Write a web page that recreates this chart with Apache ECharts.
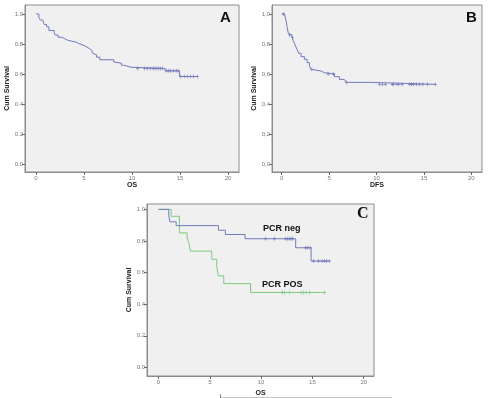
<!DOCTYPE html>
<html>
<head>
<meta charset="utf-8">
<script src="https://cdn.jsdelivr.net/npm/echarts@6/dist/echarts.min.js"></script>
<style>
  html, body { margin: 0; padding: 0; background: #fff; }
  #chart { width: 488px; height: 398px; }
</style>
</head>
<body>
<div id="chart"></div>
<script>
  // panel A - overall survival
  const aTime = [0, 0.3, 0.45, 0.7, 0.85, 1.1, 1.35, 1.9, 2.0, 2.3, 2.7, 3.0, 3.3, 4.2, 4.5, 5.0, 5.3, 5.6, 5.85, 6.0, 6.3, 6.65, 8.1, 8.3, 8.9, 9.2, 9.9, 13.45, 14.95, 16.8]
  const aSurv = [1.0, 0.975, 0.96, 0.95, 0.93, 0.915, 0.89, 0.875, 0.86, 0.845, 0.835, 0.825, 0.812, 0.802, 0.79, 0.78, 0.768, 0.755, 0.74, 0.728, 0.712, 0.695, 0.68, 0.672, 0.658, 0.645, 0.637, 0.621, 0.583, 0.583]
  const aCens = [10.6, 11.3, 11.6, 11.9, 12.2, 12.4, 12.6, 12.8, 13.0, 13.2, 13.6, 13.8, 14.0, 14.3, 14.6, 14.8, 15.1, 15.5, 15.8, 16.1, 16.4, 16.8]

  // panel B - disease free survival
  const bTime = [0, 0.28, 0.46, 0.56, 0.7, 0.81, 1.09, 1.2, 1.41, 1.62, 1.8, 2.04, 2.39, 2.68, 2.92, 3.1, 3.27, 4.15, 4.5, 5.56, 6.09, 6.6, 6.8, 9.44, 16.2]
  const bSurv = [1.0, 0.987, 0.956, 0.916, 0.871, 0.86, 0.844, 0.825, 0.793, 0.764, 0.738, 0.716, 0.698, 0.676, 0.653, 0.631, 0.62, 0.609, 0.6, 0.582, 0.564, 0.556, 0.544, 0.531, 0.531]
  const bCens = [0.2, 0.85, 1.12, 3.18, 4.9, 5.46, 6.85, 10.3, 10.6, 10.95, 11.65, 11.8, 12.15, 12.35, 12.7, 13.5, 13.7, 13.9, 14.2, 14.55, 14.9, 15.4, 16.2]

  // panel C - OS by PCR
  const negTime = [0, 1.0, 1.12, 1.72, 5.84, 6.52, 8.44, 13.37, 14.87, 16.65]
  const negSurv = [1.0, 0.96, 0.921, 0.897, 0.868, 0.841, 0.814, 0.757, 0.673, 0.673]
  const negCens = [10.42, 11.3, 12.37, 12.59, 12.75, 12.92, 13.08, 14.31, 14.54, 14.77, 15.12, 15.58, 15.94, 16.16, 16.39, 16.65]
  const posTime = [0, 1.23, 2.04, 2.79, 2.95, 3.12, 5.19, 5.68, 5.84, 6.36, 8.98, 16.17]
  const posSurv = [1.0, 0.956, 0.851, 0.82, 0.789, 0.736, 0.684, 0.631, 0.579, 0.53, 0.474, 0.474]
  const posCens = [12.04, 12.1, 12.27, 12.76, 13.9, 14.15, 14.38, 14.7, 16.17]

  const xTicks = [0, 5, 10, 15, 20]
  const yTicks = [0, 0.2, 0.4, 0.6, 0.8, 1.0]
  const yLabelsDot = ['0.0', '0.2', '0.4', '0.6', '0.8', '1.0']
  const yLabelsComma = ['0,0', '0,2', '0,4', '0,6', '0,8', '1,0']

  const BLUE = '#7079bd'
  const BLUE_MARK = '#5560ad'
  const GREEN = '#7ccb7f'
  const GREEN_MARK = '#66bd6b'
  const PLUS = 'path://M0.4,0h0.2v0.4h0.4v0.2h-0.4v0.4h-0.2v-0.4h-0.4v-0.2h0.4z'

  function stepAt(times, surv, t) {
    let s = surv[0]
    for (let i = 0; i < times.length; i++) {
      if (times[i] <= t + 1e-9) s = surv[i]
    }
    return s
  }
  function pairs(times, surv) {
    return times.map((t, i) => [t, surv[i]])
  }
  function censPairs(cens, times, surv) {
    return cens.map(t => [t, stepAt(times, surv, t)])
  }

  function xAxis(idx, min, max, name, gap) {
    return {
      gridIndex: idx, type: 'value', min: min, max: max,
      name: name, nameLocation: 'middle', nameGap: gap,
      nameTextStyle: {fontSize: 7, color: '#222', fontFamily: 'Liberation Sans', fontWeight: 'bold'},
      axisLine: {onZero: false, lineStyle: {color: '#8c8c8c'}},
      axisTick: {length: 3, lineStyle: {color: '#666'}, customValues: xTicks},
      axisLabel: {fontSize: 6, color: '#777', margin: 3, customValues: xTicks},
      splitLine: {show: false}
    }
  }
  function yAxis(idx, min, max, gap, labels) {
    return {
      gridIndex: idx, type: 'value', min: min, max: max,
      name: 'Cum Survival', nameLocation: 'middle', nameGap: gap,
      nameTextStyle: {fontSize: 7, color: '#222', fontFamily: 'Liberation Sans', fontWeight: 'bold'},
      axisLine: {onZero: false, lineStyle: {color: '#8c8c8c'}},
      axisTick: {length: 3, lineStyle: {color: '#666'}, customValues: yTicks},
      axisLabel: {
        fontSize: 6, color: '#777', margin: 2, customValues: yTicks,
        formatter: v => labels[yTicks.indexOf(v)]
      },
      splitLine: {show: false}
    }
  }
  function curve(idx, times, surv, color) {
    return {
      type: 'line', xAxisIndex: idx, yAxisIndex: idx, step: 'end',
      data: pairs(times, surv), symbol: 'none', silent: true,
      lineStyle: {color: color, width: 1}
    }
  }
  function marks(idx, cens, times, surv, color) {
    return {
      type: 'scatter', xAxisIndex: idx, yAxisIndex: idx,
      data: censPairs(cens, times, surv), symbol: PLUS, symbolSize: [3, 4],
      itemStyle: {color: color}, silent: true
    }
  }

  const gridStyle = {show: true, backgroundColor: '#f0f0f0', borderColor: '#8c8c8c', borderWidth: 1}

  const chart = echarts.init(document.getElementById('chart'))
  chart.setOption({
    animation: false,
    textStyle: {fontFamily: 'Liberation Sans'},
    grid: [
      Object.assign({left: 25, top: 5, width: 214, height: 167}, gridStyle),
      Object.assign({left: 272, top: 5, width: 210, height: 167}, gridStyle),
      Object.assign({left: 147, top: 204, width: 227, height: 174}, gridStyle)
    ],
    xAxis: [
      xAxis(0, -1.146, 21.15, 'OS', 10),
      xAxis(1, -1.025, 21.13, 'DFS', 10),
      xAxis(2, -1.12, 21.0, 'OS', 14)
    ],
    yAxis: [
      yAxis(0, -0.0533, 1.06, 11, yLabelsDot),
      yAxis(1, -0.0533, 1.06, 13, yLabelsComma),
      yAxis(2, -0.0546, 1.034, 12, yLabelsDot)
    ],
    series: [
      curve(0, aTime, aSurv, BLUE),
      marks(0, aCens, aTime, aSurv, BLUE_MARK),
      curve(1, bTime, bSurv, BLUE),
      marks(1, bCens, bTime, bSurv, BLUE_MARK),
      curve(2, posTime, posSurv, GREEN),
      marks(2, posCens, posTime, posSurv, GREEN_MARK),
      curve(2, negTime, negSurv, BLUE),
      marks(2, negCens, negTime, negSurv, BLUE_MARK)
    ],
    graphic: [
      {type: 'text', left: 220, top: 10, style: {text: 'A', font: 'bold 15px Liberation Sans', fill: '#111'}},
      {type: 'text', left: 466, top: 10, style: {text: 'B', font: 'bold 15px Liberation Sans', fill: '#111'}},
      {type: 'text', left: 357, top: 206, style: {text: 'C', font: 'bold 16px Liberation Serif', fill: '#111'}},
      {type: 'text', left: 263, top: 224, style: {text: 'PCR neg', font: 'bold 9px Liberation Sans', fill: '#111'}},
      {type: 'text', left: 262, top: 280, style: {text: 'PCR POS', font: 'bold 9px Liberation Sans', fill: '#111'}},
      {type: 'line', shape: {x1: 220, y1: 397.5, x2: 392, y2: 397.5}, style: {stroke: '#c8c8c8', lineWidth: 1}},
      {type: 'line', shape: {x1: 220.5, y1: 394, x2: 220.5, y2: 398}, style: {stroke: '#888', lineWidth: 1}}
    ]
  })
</script>
</body>
</html>
